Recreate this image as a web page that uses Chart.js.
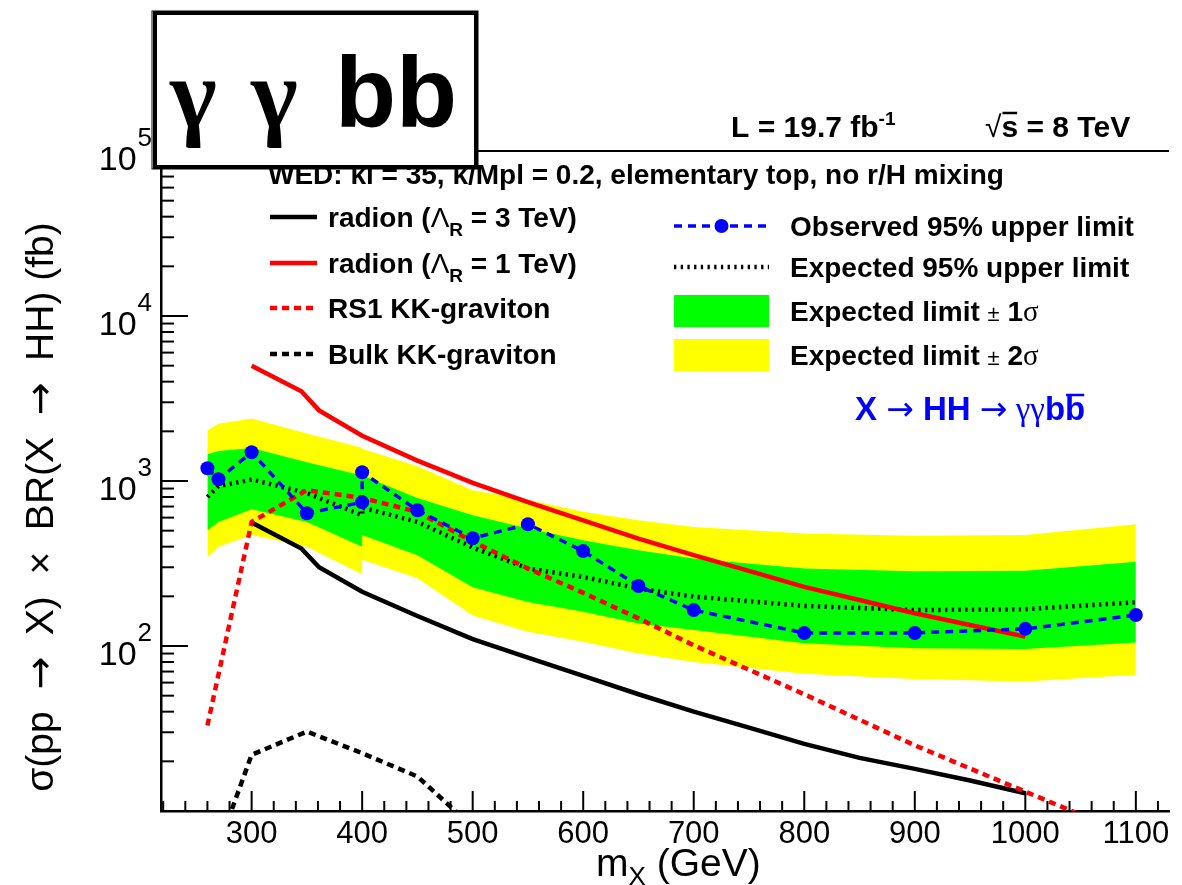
<!DOCTYPE html>
<html>
<head>
<meta charset="utf-8">
<script src="https://cdn.jsdelivr.net/npm/chart.js@4.4.1/dist/chart.umd.min.js"></script>
<style>
  html, body { margin: 0; padding: 0; background: #fff; }
</style>
</head>
<body>
<canvas id="limits" width="1182" height="885"></canvas>
<script>
// resonance mass points (GeV) for the limit bands / observed / expected
const massBand = [260, 270, 300, 350, 400, 400, 450, 500, 550, 600, 650, 700, 800, 900, 1000, 1100];
const band2Up = [2030, 2220, 2390, 1940, 1590, 1570, 1230, 880, 770, 650, 578, 527, 481, 465, 470, 547];
const band1Up = [1450, 1520, 1585, 1300, 1080, 1080, 790, 620, 515, 438, 381, 339, 295, 284, 286, 324];
const expected = [800, 930, 1020, 845, 620, 690, 565, 395, 295, 262, 223, 199, 175, 165, 167, 184];
const band1Down = [503, 565, 675, 565, 399, 470, 355, 227, 185, 161, 137, 125, 104, 97, 96, 105];
const band2Down = [344, 399, 470, 399, 272, 333, 257, 153, 122, 106, 90, 80, 68, 63, 61, 67];
const observed = [1195, 1024, 1493, 638, 743, 1130, 665, 450, 547, 376, 231, 165, 120, 120, 127, 154];

// theory curves (fb)
const massRadion = [300, 345, 361, 400, 450, 500, 550, 600, 650, 700, 750, 800, 850, 900, 950, 1000];
const radion1TeV = [5000, 3500, 2680, 1880, 1330, 975, 745, 578, 448, 355, 285, 228, 190, 158, 134, 114];
const radion3TeV = [560, 390, 300, 213, 152, 110, 85, 66, 51, 40, 32, 25.5, 21, 18, 15.3, 12.8];
const massRS1 = [260, 300, 350, 400, 450, 500, 550, 600, 650, 700, 800, 900, 1000, 1050];
const rs1Graviton = [33, 565, 880, 790, 650, 430, 295, 210, 147, 101, 51, 25, 13.1, 9.5];
const massBulk = [260, 300, 350, 400, 450, 500];
const bulkGraviton = [4, 21.9, 30.3, 22.4, 16.2, 8];

// axis ticks
const xTicks = [300, 400, 500, 600, 700, 800, 900, 1000, 1100];
const yTicks = [1e2, 1e3, 1e4, 1e5];

const pts = (xs, ys) => xs.map((x, i) => ({ x: x, y: ys[i] }));
const SANS = '"Liberation Sans", Arial, sans-serif';
const SERIF = '"Liberation Serif", "Times New Roman", serif';
const ARROW = '"DejaVu Sans", ' + SANS;

function line(ctx, x1, y1, x2, y2) {
  ctx.beginPath(); ctx.moveTo(x1, y1); ctx.lineTo(x2, y2); ctx.stroke();
}

function richWidth(ctx, parts) {
  let w = 0;
  for (const p of parts) { ctx.font = p[1]; w += ctx.measureText(p[0]).width; }
  return w;
}

// draw a list of [text, font, dy, overline] pieces one after the other
function rich(ctx, x, y, parts) {
  for (const p of parts) {
    ctx.font = p[1];
    const w = ctx.measureText(p[0]).width;
    ctx.fillText(p[0], x, y + (p[2] || 0));
    if (p[3]) {
      ctx.save();
      ctx.lineWidth = 2.5;
      ctx.strokeStyle = ctx.fillStyle;
      line(ctx, x + 1, y + p[3], x + w - 1, y + p[3]);
      ctx.restore();
    }
    x += w;
  }
  return x;
}

const B28 = 'bold 28px ' + SANS;
const legendLeft = [
  { ds: 5, y: 217, parts: [['radion (', B28], ['\u039B', '28px ' + SANS], ['R', 'bold 19px ' + SANS, 9], [' = 3 TeV)', B28]] },
  { ds: 6, y: 263, parts: [['radion (', B28], ['\u039B', '28px ' + SANS], ['R', 'bold 19px ' + SANS, 9], [' = 1 TeV)', B28]] },
  { ds: 7, y: 308, parts: [['RS1 KK-graviton', B28]] },
  { ds: 8, y: 354, parts: [['Bulk KK-graviton', B28]] }
];
const legendRight = [
  { ds: 9, y: 226, parts: [['Observed 95% upper limit', B28]] },
  { ds: 4, y: 267, parts: [['Expected 95% upper limit', B28]] },
  { ds: 2, y: 311, box: true, parts: [['Expected limit ', B28], ['\u00B1', '22px ' + SANS], [' 1', B28], ['\u03C3', '29px ' + SERIF]] },
  { ds: 0, y: 355, box: true, parts: [['Expected limit ', B28], ['\u00B1', '22px ' + SANS], [' 2', B28], ['\u03C3', '29px ' + SERIF]] }
];

const F40 = '39px ' + SANS;
const yTitle = [
  ['\u03C3(pp  ', F40], ['\u2192', '39px ' + ARROW], ['  X)  \u00D7  BR(X  ', F40],
  ['\u2192', '39px ' + ARROW], ['  HH) (fb)', F40]
];

function sample(ctx, ds, x1, x2, y, box) {
  ctx.save();
  if (box) {
    ctx.fillStyle = ds.backgroundColor;
    ctx.fillRect(x1, y - 16, x2 - x1, 32);
  } else {
    ctx.strokeStyle = ds.borderColor;
    ctx.lineWidth = ds.borderWidth;
    ctx.setLineDash(ds.borderDash || []);
    line(ctx, x1, y, x2, y);
    if (ds.pointRadius) {
      ctx.fillStyle = ds.pointBackgroundColor;
      ctx.beginPath(); ctx.arc((x1 + x2) / 2, y, ds.pointRadius, 0, Math.PI * 2); ctx.fill();
    }
  }
  ctx.restore();
}

const rootFrame = {
  id: 'rootFrame',
  afterDraw(chart) {
    const ctx = chart.ctx, a = chart.chartArea;
    const xs = chart.scales.x, ys = chart.scales.y;
    ctx.save();
    ctx.strokeStyle = '#000';
    ctx.fillStyle = '#000';
    ctx.lineWidth = 2;

    // inward tick marks
    for (let e = 1; e <= 5; e++) {
      for (let m = 1; m <= 9; m++) {
        const v = m * Math.pow(10, e);
        if (v > 1e5) break;
        const y = ys.getPixelForValue(v);
        line(ctx, a.left, y, a.left + (m === 1 ? 27 : 13), y);
      }
    }
    for (let v = 220; v <= 1120; v += 20) {
      const x = xs.getPixelForValue(v);
      line(ctx, x, a.bottom, x, a.bottom - (v % 100 === 0 ? 20 : 10));
    }
    line(ctx, a.left, a.top, a.right, a.top);

    // y tick labels 10^n
    ctx.textAlign = 'left';
    ctx.textBaseline = 'alphabetic';
    for (const v of yTicks) {
      const y = ys.getPixelForValue(v);
      const ex = String(Math.round(Math.log10(v)));
      ctx.font = '26px ' + SANS;
      const we = ctx.measureText(ex).width;
      ctx.font = '34px ' + SANS;
      const wb = ctx.measureText('10').width;
      const x0 = 151 - we - wb;
      ctx.fillText('10', x0, y + 19);
      ctx.font = '26px ' + SANS;
      ctx.fillText(ex, x0 + wb + 1, y - 5);
    }

    // y axis title, rotated
    ctx.save();
    ctx.translate(53, 507);
    ctx.rotate(-Math.PI / 2);
    rich(ctx, -richWidth(ctx, yTitle) / 2, 0, yTitle);
    ctx.restore();

    // x axis title m_X (GeV)
    rich(ctx, 596, 876, [['m', '39px ' + SANS], ['X', '26px ' + SANS, 9], [' (GeV)', '39px ' + SANS]]);

    // legend
    const dsets = chart.data.datasets;
    rich(ctx, 268, 184, [['WED: kl = 35, k/Mpl = 0.2, elementary top, no r/H mixing', 'bold 28px ' + SANS]]);
    for (const it of legendLeft) {
      sample(ctx, dsets[it.ds], 270, 317, it.y, false);
      ctx.fillStyle = '#000';
      rich(ctx, 328, it.y + 10, it.parts);
    }
    for (const it of legendRight) {
      sample(ctx, dsets[it.ds], 674, 769, it.y, it.box);
      ctx.fillStyle = '#000';
      rich(ctx, 790, it.y + 10, it.parts);
    }
    ctx.fillStyle = '#0000ff';
    rich(ctx, 855, 420, [
      ['X ', 'bold 33px ' + SANS], ['\u2192', '33px ' + ARROW], [' HH ', 'bold 33px ' + SANS],
      ['\u2192', '33px ' + ARROW], [' \u03B3\u03B3', '33px ' + SERIF],
      ['b', 'bold 33px ' + SANS], ['b', 'bold 33px ' + SANS, 0, -25]
    ]);

    // luminosity / energy
    ctx.fillStyle = '#000';
    rich(ctx, 731, 137, [['L = 19.7 fb', 'bold 30px ' + SANS], ['-1', 'bold 19px ' + SANS, -12]]);
    rich(ctx, 985, 137, [['\u221A', '30px ' + SANS], ['s', 'bold 30px ' + SANS, 0, -24], [' = 8 TeV', 'bold 30px ' + SANS]]);

    // channel box
    ctx.fillStyle = '#fff';
    ctx.fillRect(155, 13, 321, 154);
    ctx.lineWidth = 4;
    ctx.strokeRect(155, 13, 321, 154);
    ctx.lineWidth = 1;
    ctx.strokeRect(152, 11, 326, 158);
    ctx.fillStyle = '#000';
    ctx.font = 'bold 100px ' + SERIF;
    ctx.fillText('\u03B3', 170, 127);
    ctx.fillText('\u03B3', 251, 127);
    ctx.font = 'bold 100px ' + SANS;
    ctx.fillText('bb', 335, 127);
    ctx.restore();
  }
};

const flat = { pointRadius: 0, borderWidth: 0, tension: 0 };

new Chart(document.getElementById('limits').getContext('2d'), {
  type: 'line',
  data: {
    datasets: [
      Object.assign({ label: 'Expected limit \u00B1 2\u03C3 (up)', data: pts(massBand, band2Up), backgroundColor: '#ffff00', fill: 1, order: 10 }, flat),
      Object.assign({ label: 'Expected limit \u00B1 2\u03C3 (down)', data: pts(massBand, band2Down), fill: false, order: 10 }, flat),
      Object.assign({ label: 'Expected limit \u00B1 1\u03C3 (up)', data: pts(massBand, band1Up), backgroundColor: '#00ff00', fill: 3, order: 9 }, flat),
      Object.assign({ label: 'Expected limit \u00B1 1\u03C3 (down)', data: pts(massBand, band1Down), fill: false, order: 9 }, flat),
      { label: 'Expected 95% upper limit', data: pts(massBand, expected), borderColor: '#000', borderWidth: 4.5, borderDash: [2.3, 4.4], pointRadius: 0, fill: false, order: 6 },
      { label: 'radion (\u039BR = 3 TeV)', data: pts(massRadion, radion3TeV), borderColor: '#000', borderWidth: 4.5, pointRadius: 0, fill: false, order: 5 },
      { label: 'radion (\u039BR = 1 TeV)', data: pts(massRadion, radion1TeV), borderColor: '#ff0000', borderWidth: 4.5, pointRadius: 0, fill: false, order: 4 },
      { label: 'RS1 KK-graviton', data: pts(massRS1, rs1Graviton), borderColor: '#ff0000', borderWidth: 4.5, borderDash: [7, 5], pointRadius: 0, fill: false, order: 3 },
      { label: 'Bulk KK-graviton', data: pts(massBulk, bulkGraviton), borderColor: '#000', borderWidth: 4.5, borderDash: [7, 5], pointRadius: 0, fill: false, order: 3 },
      { label: 'Observed 95% upper limit', data: pts(massBand, observed), borderColor: '#0000ff', borderWidth: 3.5, borderDash: [8, 6], pointRadius: 7, pointBackgroundColor: '#0000ff', pointBorderWidth: 0, fill: false, order: 1 }
    ]
  },
  options: {
    responsive: false,
    animation: false,
    events: [],
    layout: { padding: { top: 151, right: 13, left: 0, bottom: 0 } },
    plugins: { legend: { display: false }, tooltip: { enabled: false } },
    scales: {
      x: {
        type: 'linear', min: 218, max: 1130,
        grid: { display: false },
        border: { display: true, color: '#000', width: 2.5 },
        ticks: { color: '#000', font: { family: SANS, size: 31 }, padding: -3, maxRotation: 0, autoSkip: false, callback: v => String(v) },
        afterBuildTicks: s => { s.ticks = xTicks.map(v => ({ value: v })); },
        afterFit: s => { s.height = 74; }
      },
      y: {
        type: 'logarithmic', min: 10, max: 1e5,
        grid: { display: false },
        border: { display: true, color: '#000', width: 2.5 },
        ticks: { display: false },
        afterFit: s => { s.width = 161; }
      }
    }
  },
  plugins: [rootFrame]
});
</script>
</body>
</html>
